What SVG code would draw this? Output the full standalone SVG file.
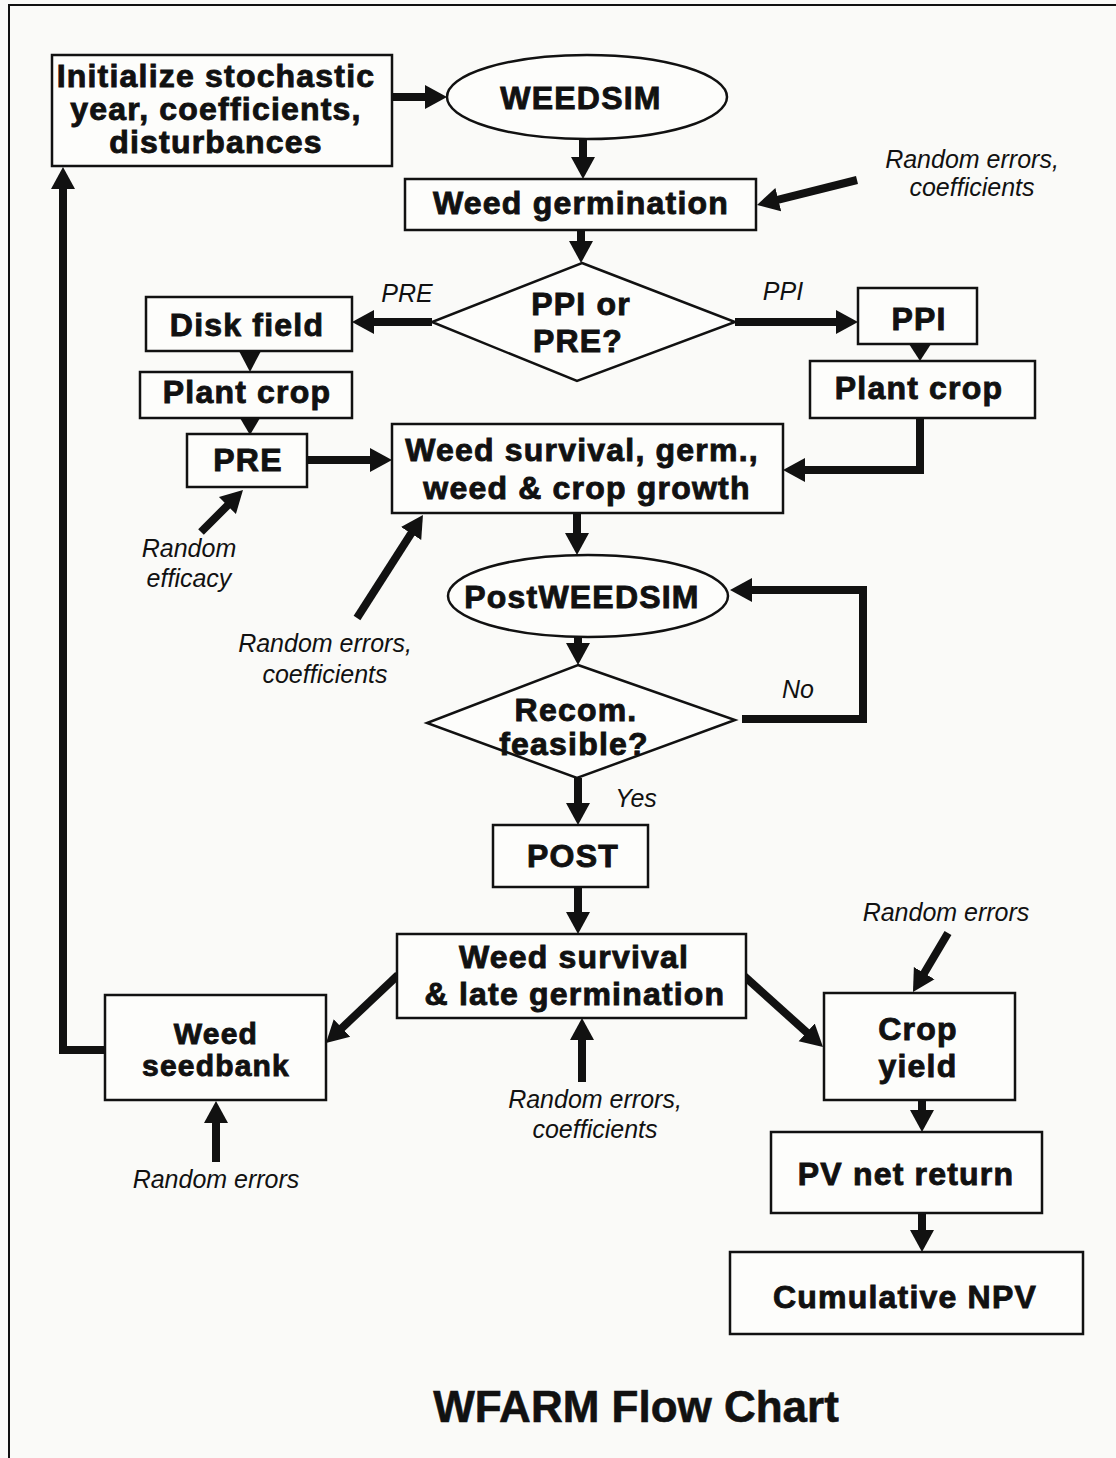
<svg xmlns="http://www.w3.org/2000/svg" width="1116" height="1458" viewBox="0 0 1116 1458">
<defs>
<style>
.bx{fill:#fdfdfb;stroke:#111;stroke-width:2.5}
.t{font-family:"Liberation Sans",Arial,sans-serif;font-weight:bold;font-size:32px;letter-spacing:1.2px;fill:#111;stroke:#111;stroke-width:0.9;text-anchor:middle}
.i{font-family:"Liberation Sans",Arial,sans-serif;font-style:italic;font-size:25px;fill:#111;text-anchor:middle}
.c{stroke:#111;stroke-width:8;fill:none;marker-end:url(#ah)}
.tri{fill:#111}
</style>
<marker id="ah" markerUnits="userSpaceOnUse" markerWidth="24" markerHeight="26" refX="10" refY="13" orient="auto">
<path d="M0,1 L22,13 L0,25 z" fill="#111"/>
</marker>
</defs>
<rect x="0" y="0" width="1116" height="1458" fill="#fafaf8"/>
<path d="M9,1458 V5 H1116" fill="none" stroke="#111" stroke-width="2"/>

<g id="connectors">
<line class="c" x1="392" y1="97" x2="435" y2="97"/>
<line class="c" x1="583" y1="138" x2="583" y2="167"/>
<line class="c" x1="857" y1="180" x2="768.6" y2="202.1"/>
<line class="c" x1="581" y1="230" x2="581" y2="251"/>
<line class="c" x1="432" y1="322" x2="364" y2="322"/>
<line class="c" x1="735" y1="322" x2="846" y2="322"/>
<polygon class="tri" points="239,351 261,351 250,372"/>
<polygon class="tri" points="240,418 260,418 250,435"/>
<line class="c" x1="307" y1="460" x2="380" y2="460"/>
<line class="c" x1="201" y1="532" x2="234.5" y2="498.5"/>
<polygon class="tri" points="909,344 931,344 920,361"/>
<path class="c" d="M920,418 V470 H795"/>
<line class="c" x1="357" y1="618" x2="416.5" y2="525.1"/>
<line class="c" x1="577" y1="513" x2="577" y2="543"/>
<line class="c" x1="578" y1="637" x2="578" y2="653"/>
<path class="c" d="M742,719 H863 V590 H742"/>
<line class="c" x1="578" y1="778" x2="578" y2="813"/>
<line class="c" x1="578" y1="887" x2="578" y2="922"/>
<line class="c" x1="398" y1="975" x2="334.7" y2="1034.8"/>
<line class="c" x1="582" y1="1082" x2="582" y2="1030"/>
<line class="c" x1="216" y1="1162" x2="216" y2="1113"/>
<line class="c" x1="743" y1="975" x2="814.1" y2="1039"/>
<line class="c" x1="948" y1="933" x2="919.1" y2="981.7"/>
<line class="c" x1="922" y1="1100" x2="922" y2="1120"/>
<line class="c" x1="922" y1="1213" x2="922" y2="1240"/>
<path class="c" d="M105,1050 H63 V179"/>
</g>

<g id="init">
<rect class="bx" x="52" y="55" width="340" height="111"/>
<text class="t" x="216" y="87">Initialize stochastic</text>
<text class="t" x="216" y="120">year, coefficients,</text>
<text class="t" x="216" y="153">disturbances</text>
</g>
<g id="weedsim">
<ellipse class="bx" cx="587" cy="97" rx="140" ry="42"/>
<text class="t" x="581" y="109">WEEDSIM</text>
</g>
<g id="germination">
<rect class="bx" x="405" y="179" width="351" height="51"/>
<text class="t" x="581" y="214">Weed germination</text>
</g>
<g id="rand1">
<text class="i" x="972" y="168">Random errors,</text>
<text class="i" x="972" y="196">coefficients</text>
</g>
<g id="ppipre">
<polygon class="bx" points="582,263 735,322 577,381 432,322"/>
<text class="t" x="581" y="315">PPI or</text>
<text class="t" x="578" y="352">PRE?</text>
</g>
<g id="lbl-pre"><text class="i" x="407" y="302">PRE</text></g>
<g id="lbl-ppi"><text class="i" x="783" y="300">PPI</text></g>
<g id="disk">
<rect class="bx" x="146" y="297" width="206" height="54"/>
<text class="t" x="247" y="336">Disk field</text>
</g>
<g id="plant1">
<rect class="bx" x="140" y="372" width="212" height="46"/>
<text class="t" x="247" y="403">Plant crop</text>
</g>
<g id="pre">
<rect class="bx" x="187" y="434" width="120" height="53"/>
<text class="t" x="248" y="471">PRE</text>
</g>
<g id="efficacy">
<text class="i" x="189" y="557">Random</text>
<text class="i" x="189" y="587">efficacy</text>
</g>
<g id="ppi">
<rect class="bx" x="858" y="288" width="119" height="56"/>
<text class="t" x="919" y="330">PPI</text>
</g>
<g id="plant2">
<rect class="bx" x="810" y="361" width="225" height="57"/>
<text class="t" x="919" y="399">Plant crop</text>
</g>
<g id="survival1">
<rect class="bx" x="392" y="424" width="391" height="89"/>
<text class="t" x="582" y="461">Weed survival, germ.,</text>
<text class="t" x="587" y="499">weed &amp; crop growth</text>
</g>
<g id="rand2">
<text class="i" x="325" y="652">Random errors,</text>
<text class="i" x="325" y="683">coefficients</text>
</g>
<g id="postweedsim">
<ellipse class="bx" cx="588" cy="596" rx="140" ry="41"/>
<text class="t" x="582" y="608">PostWEEDSIM</text>
</g>
<g id="recom">
<polygon class="bx" points="578,665 735,720 577,778 427,723"/>
<text class="t" x="576" y="721">Recom.</text>
<text class="t" x="574" y="755">feasible?</text>
</g>
<g id="lbl-no"><text class="i" x="798" y="698">No</text></g>
<g id="lbl-yes"><text class="i" x="636" y="807">Yes</text></g>
<g id="post">
<rect class="bx" x="493" y="825" width="155" height="62"/>
<text class="t" x="573" y="867">POST</text>
</g>
<g id="survival2">
<rect class="bx" x="397" y="934" width="349" height="84"/>
<text class="t" x="574" y="968">Weed survival</text>
<text class="t" x="575" y="1005">&amp; late germination</text>
</g>
<g id="seedbank">
<rect class="bx" x="105" y="995" width="221" height="105"/>
<text class="t" x="216" y="1044" style="font-size:30px">Weed</text>
<text class="t" x="216" y="1076" style="font-size:30px">seedbank</text>
</g>
<g id="rand3">
<text class="i" x="216" y="1188">Random errors</text>
</g>
<g id="rand4">
<text class="i" x="595" y="1108">Random errors,</text>
<text class="i" x="595" y="1138">coefficients</text>
</g>
<g id="rand5">
<text class="i" x="946" y="921">Random errors</text>
</g>
<g id="cropyield">
<rect class="bx" x="824" y="993" width="191" height="107"/>
<text class="t" x="918" y="1040">Crop</text>
<text class="t" x="918" y="1077">yield</text>
</g>
<g id="pv">
<rect class="bx" x="771" y="1132" width="271" height="81"/>
<text class="t" x="906" y="1185">PV net return</text>
</g>
<g id="npv">
<rect class="bx" x="730" y="1252" width="353" height="82"/>
<text class="t" x="905" y="1308">Cumulative NPV</text>
</g>
<g id="title">
<text x="636" y="1422" font-family="Liberation Sans, Arial, sans-serif" font-weight="bold" font-size="44" fill="#111" stroke="#111" stroke-width="0.6" text-anchor="middle">WFARM Flow Chart</text>
</g>
</svg>
